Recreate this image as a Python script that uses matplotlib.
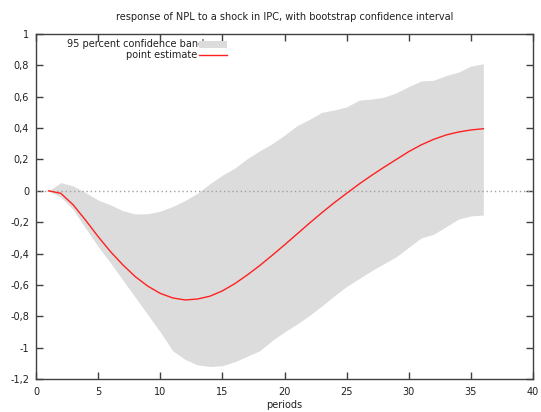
import matplotlib
matplotlib.use("Agg")
import matplotlib.pyplot as plt
from matplotlib.ticker import FuncFormatter, MultipleLocator
from matplotlib.patches import Rectangle
from matplotlib.lines import Line2D

periods = list(range(1, 37))
point_estimate = [0.0, -0.016, -0.09, -0.188, -0.292, -0.388, -0.473, -0.548, -0.608, -0.654,
                  -0.683, -0.696, -0.69, -0.672, -0.638, -0.592, -0.537, -0.477, -0.412, -0.345,
                  -0.276, -0.207, -0.14, -0.076, -0.016, 0.043, 0.098, 0.15, 0.2, 0.25,
                  0.293, 0.328, 0.356, 0.375, 0.388, 0.396]
upper_band = [0.0, 0.052, 0.031, -0.012, -0.059, -0.09, -0.127, -0.148, -0.146, -0.13,
              -0.1, -0.062, -0.015, 0.045, 0.1, 0.145, 0.205, 0.255, 0.3, 0.355,
              0.415, 0.455, 0.5, 0.515, 0.535, 0.578, 0.585, 0.597, 0.625, 0.665,
              0.7, 0.705, 0.735, 0.757, 0.795, 0.81]
lower_band = [0.0, -0.04, -0.12, -0.24, -0.355, -0.46, -0.57, -0.68, -0.79, -0.9,
              -1.02, -1.075, -1.11, -1.12, -1.115, -1.09, -1.055, -1.02, -0.955, -0.9,
              -0.85, -0.795, -0.735, -0.67, -0.61, -0.56, -0.51, -0.465, -0.42, -0.36,
              -0.3, -0.277, -0.229, -0.18, -0.16, -0.154]

title = "response of NPL to a shock in IPC, with bootstrap confidence interval"
band_label = "95 percent confidence band"
line_label = "point estimate"

W, H = 541, 412
fig = plt.figure(figsize=(W / 100, H / 100), dpi=100)
L, R, T, B = 36, 533, 34, 379
ax = fig.add_axes([L / W, 1 - B / H, (R - L) / W, (B - T) / H])

band_color = "#dcdcdc"
ax.fill_between(periods, lower_band, upper_band, color=band_color, linewidth=0, zorder=1)
ax.axhline(0, color="#a0a0a0", linestyle=(0, (1, 2)), linewidth=1.0, zorder=2)
ax.plot(periods, point_estimate, color="#ff2020", linewidth=1.0, zorder=3)

ax.set_xlim(0, 40)
ax.set_ylim(-1.2, 1.0)
ax.xaxis.set_major_locator(MultipleLocator(5))
ax.yaxis.set_major_locator(MultipleLocator(0.2))

def fmt(v, pos):
    v = round(v, 6)
    if abs(v) < 1e-9:
        v = 0.0
    return ("%g" % v).replace(".", ",")

ax.yaxis.set_major_formatter(FuncFormatter(fmt))
ax.xaxis.set_major_formatter(FuncFormatter(fmt))

for s in ax.spines.values():
    s.set_color("#404040")
    s.set_linewidth(1.0)
ax.tick_params(axis="both", direction="in", length=5, width=1, color="#404040",
               labelsize=7, labelcolor="#202020", top=True, right=True)
ax.tick_params(axis="x", pad=6)
ax.tick_params(axis="y", pad=5)

fig.text((L + R) / 2 / W, 1 - 17 / H, title, ha="center", va="center", fontsize=7, color="#202020")
fig.text((L + R) / 2 / W, 1 - 405 / H, "periods", ha="center", va="center", fontsize=7, color="#202020")

# legend drawn manually (gnuplot style)
fig.text(204 / W, 1 - 44 / H, band_label, ha="right", va="center", fontsize=7, color="#202020", zorder=5)
fig.patches.append(Rectangle((199 / W, 1 - 47.5 / H), 28 / W, 6.5 / H, transform=fig.transFigure,
                             facecolor=band_color, edgecolor="none", zorder=6))
fig.text(197 / W, 1 - 54.5 / H, line_label, ha="right", va="center", fontsize=7, color="#202020")
fig.lines.append(Line2D([199 / W, 227 / W], [1 - 54.5 / H, 1 - 54.5 / H], transform=fig.transFigure,
                        color="#ff2020", linewidth=1.0))

fig.savefig("out.png", dpi=100)
